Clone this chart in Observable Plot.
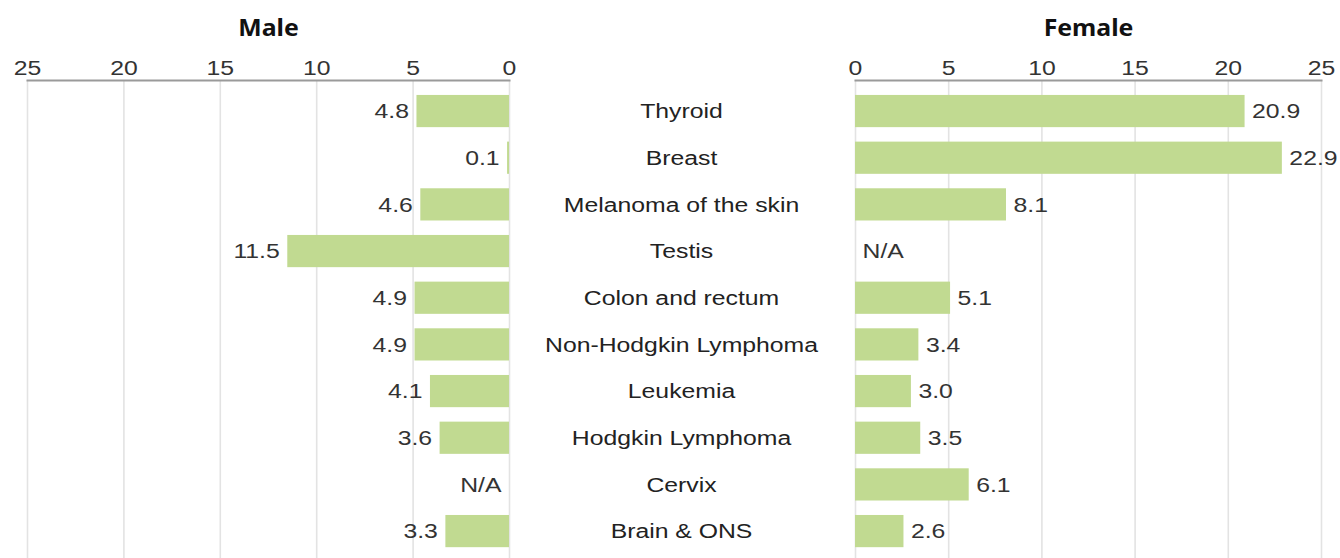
<!DOCTYPE html>
<html>
<head>
<meta charset="utf-8">
<script src="https://cdn.jsdelivr.net/npm/d3@7"></script>
<script src="https://cdn.jsdelivr.net/npm/@observablehq/plot@0.6"></script>
<style>
  html, body { margin: 0; padding: 0; background: #fff; }
  #wrap { position: relative; width: 1340px; height: 558px; overflow: hidden; }
  #left, #right { position: absolute; top: 0; }
  #left { left: 0; }
  #right { left: 540px; }
</style>
</head>
<body>
<div id="wrap"><div id="left"></div><div id="right"></div></div>
<script>
const categories = ["Thyroid", "Breast", "Melanoma of the skin", "Testis", "Colon and rectum",
  "Non-Hodgkin Lymphoma", "Leukemia", "Hodgkin Lymphoma", "Cervix", "Brain & ONS"];
const maleValues = [4.8, 0.1, 4.6, 11.5, 4.9, 4.9, 4.1, 3.6, null, 3.3];
const femaleValues = [20.9, 22.9, 8.1, null, 5.1, 3.4, 3.0, 3.5, 6.1, 2.6];
const xTicks = [0, 5, 10, 15, 20, 25];
const panelTitles = ["Male", "Female"];

const barColor = "#c1da91";
const textColor = "#333";
const font = "'Liberation Sans', Arial, sans-serif";
const stretch = 1.18;

const toRows = vals => categories.map((c, i) => ({category: c, value: vals[i]}));
const maleRows = toRows(maleValues);
const femaleRows = toRows(femaleValues);
const fmt = v => v == null ? "N/A" : v.toFixed(1);

// widen glyphs horizontally around each text's own anchor point
function widenText(svg) {
  svg.querySelectorAll("text").forEach(t => {
    const s = t.classList.contains("title-text") ? 1.08 : stretch;
    const tr = t.getAttribute("transform");
    if (tr) {
      t.setAttribute("transform", tr + ` scale(${s},1)`);
    } else {
      const x = +(t.getAttribute("x") || 0), y = +(t.getAttribute("y") || 0);
      t.setAttribute("transform", `translate(${x},${y}) scale(${s},1) translate(${-x},${-y})`);
    }
  });
  return svg;
}

function panel(rows, opts) {
  const {reverse, width, marginLeft, marginRight, title, extra} = opts;
  const svg = Plot.plot({
    width, height: 558,
    marginTop: 80, marginBottom: 0, marginLeft, marginRight,
    style: {fontFamily: font, color: textColor, background: "transparent", overflow: "visible"},
    x: {domain: [0, 25], reverse, axis: null, label: null},
    y: {domain: categories, axis: null, label: null, round: false,
        paddingInner: 0.31, paddingOuter: 0.276, align: 0.58},
    marks: [
      Plot.gridX(xTicks, {stroke: "#e3e3e3", strokeOpacity: 1, strokeWidth: 1.6}),
      Plot.axisX(xTicks, {anchor: "top", label: null, tickSize: 0, tickPadding: 6, fontSize: 21, fill: textColor, tickFormat: d => String(d)}),
      Plot.frame({anchor: "top", stroke: "#9a9a9a", strokeWidth: 2}),
      Plot.barX(rows.filter(d => d.value != null), {x: "value", y: "category", fill: barColor}),
      Plot.text(rows, {
        x: d => d.value ?? 0, y: "category", text: d => fmt(d.value),
        textAnchor: reverse ? "end" : "start", dx: reverse ? -8 : 7,
        fontSize: 21, fill: textColor
      }),
      Plot.text([title], {frameAnchor: "top", dy: -61, fontSize: 23, fontWeight: "bold",
        fontFamily: "'Noto Sans', 'Open Sans', sans-serif", fill: "#111"}),
      ...(extra || [])
    ]
  });
  svg.querySelectorAll("text").forEach(t => {
    if (t.textContent === title) t.classList.add("title-text");
  });
  return widenText(svg);
}

document.getElementById("left").appendChild(panel(maleRows, {
  reverse: true, width: 540, marginLeft: 27, marginRight: 31, title: panelTitles[0]
}));

document.getElementById("right").appendChild(panel(femaleRows, {
  reverse: false, width: 800, marginLeft: 315, marginRight: 19, title: panelTitles[1],
  extra: [
    Plot.text(categories, {y: d => d, frameAnchor: "left", dx: -174, textAnchor: "middle",
      fontSize: 21, fill: "#222"})
  ]
}));
</script>
</body>
</html>
